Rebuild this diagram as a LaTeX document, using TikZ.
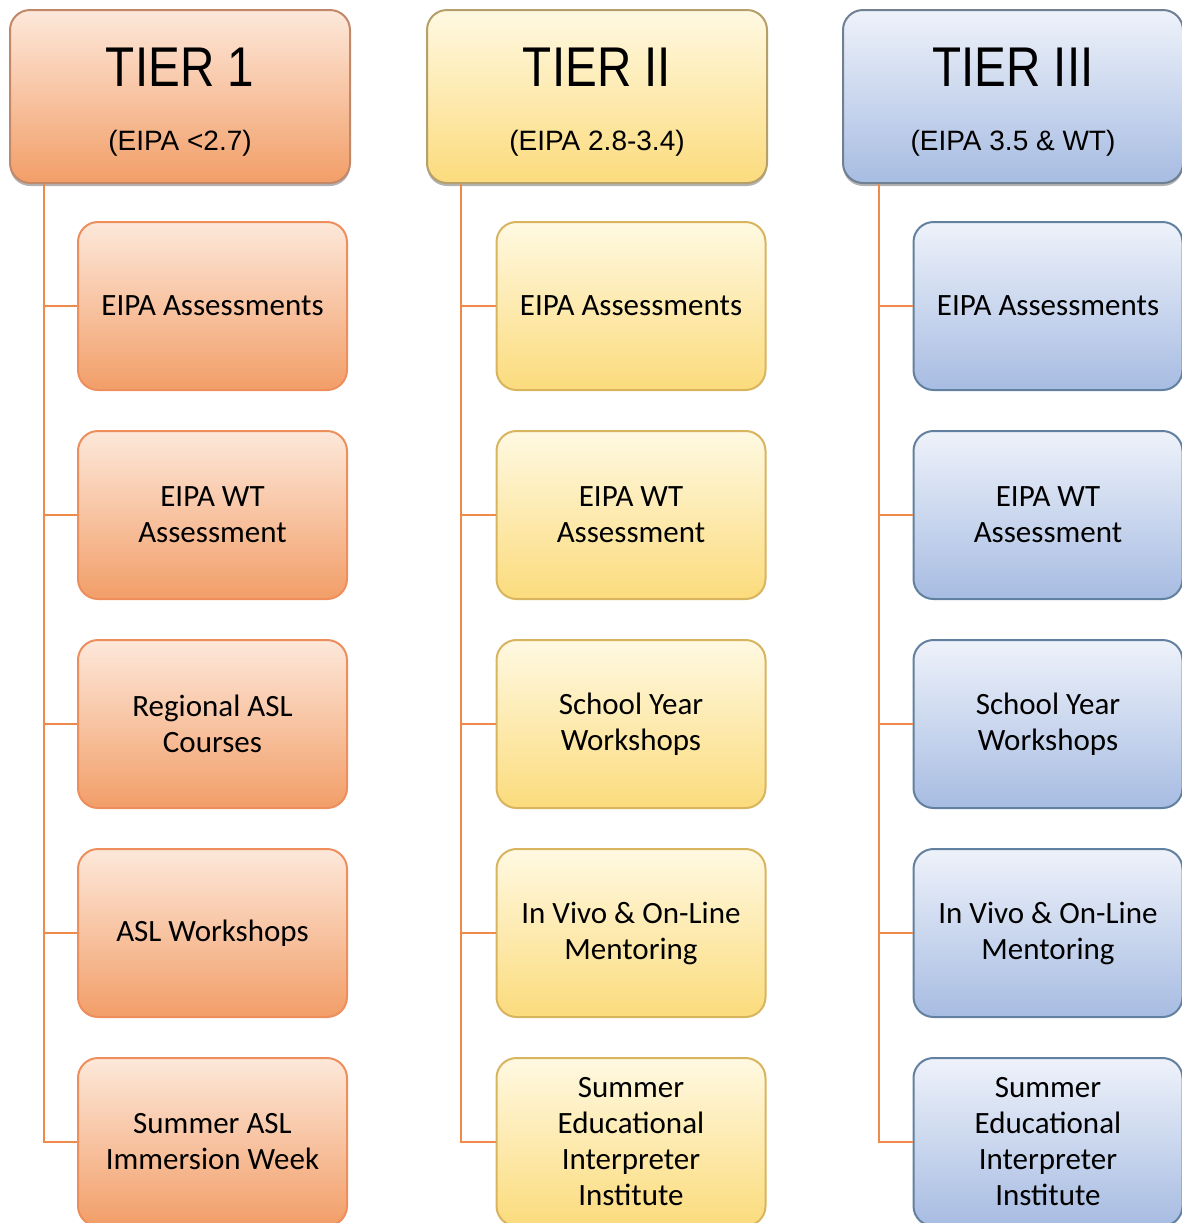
\documentclass[tikz,border=0pt]{standalone}
\usepackage{fontspec}
\setmainfont{Carlito}
\newfontfamily\headfont[FakeStretch=0.85]{Liberation Sans}
\newfontfamily\subfont{Liberation Sans}
\usetikzlibrary{positioning, calc, shadows}

\definecolor{orgline}{HTML}{F08A4B}
\definecolor{orgtop}{HTML}{FDE8DA}
\definecolor{orgbot}{HTML}{F29E68}
\definecolor{orgdraw}{HTML}{EE8E5C}
\definecolor{yeltop}{HTML}{FFF9E2}
\definecolor{yelbot}{HTML}{FBDB7C}
\definecolor{yeldraw}{HTML}{D8B45E}
\definecolor{blutop}{HTML}{EEF2FA}
\definecolor{blubot}{HTML}{A7BCE2}
\definecolor{bludraw}{HTML}{62809F}

\begin{document}
\begin{tikzpicture}[
    x=0.5pt, y=-0.5pt,
    box/.style={rounded corners=10pt, align=center, text=black, line width=1pt},
    tier/.style={box, minimum width=170pt, minimum height=86.5pt,
        font=\subfont\fontsize{14}{32}\selectfont,
        drop shadow={shadow xshift=0pt, shadow yshift=-1.5pt, opacity=0.6}},
    item/.style={box, minimum width=134.5pt, minimum height=84pt,
        font=\fontsize{15.5}{18}\selectfont},
    link/.style={draw=orgline, line width=1pt}
]
    \useasboundingbox (0,0) rectangle (1182,1223);

    % Tier headers
    \foreach \t/\x/\name/\range/\col in {1/180/TIER 1/{(EIPA <2.7)}/org,
                                         2/597/TIER II/{(EIPA 2.8-3.4)}/yel,
                                         3/1013/TIER III/{(EIPA 3.5 \& WT)}/blu} {
        \node[tier, top color=\col top, bottom color=\col bot, draw=\col draw!60!gray]
            (t\t) at (\x,96.5)
            {\rule{0pt}{25pt}{\headfont\fontsize{28}{32}\selectfont \name}\\\range};
    }

    % Tier 1 items
    \foreach \i/\txt in {1/EIPA Assessments, 2/{EIPA WT\\Assessment},
                         3/{Regional ASL\\Courses}, 4/ASL Workshops,
                         5/{Summer ASL\\Immersion Week}} {
        \node[item, top color=orgtop, bottom color=orgbot, draw=orgdraw]
            (i1-\i) at (212.5, 97+209*\i) {\txt};
    }

    % Tier II and III items
    \foreach \t/\x/\col in {2/631/yel, 3/1048/blu} {
        \foreach \i/\txt in {1/EIPA Assessments, 2/{EIPA WT\\Assessment},
                             3/{School Year\\Workshops}, 4/{In Vivo \& On-Line\\Mentoring},
                             5/{Summer\\Educational\\Interpreter\\Institute}} {
            \node[item, top color=\col top, bottom color=\col bot, draw=\col draw]
                (i\t-\i) at (\x, 97+209*\i) {\txt};
        }
    }

    % Connectors
    \foreach \t/\dx in {1/35, 2/35, 3/37} {
        \coordinate (r\t) at ($(t\t.south west)+(\dx,0)$);
        \draw[link] (r\t) |- (i\t-5.west);
        \foreach \i in {1,...,4}
            \draw[link] (i\t-\i.west) -- (i\t-\i.west -| r\t);
    }

\end{tikzpicture}
\end{document}
